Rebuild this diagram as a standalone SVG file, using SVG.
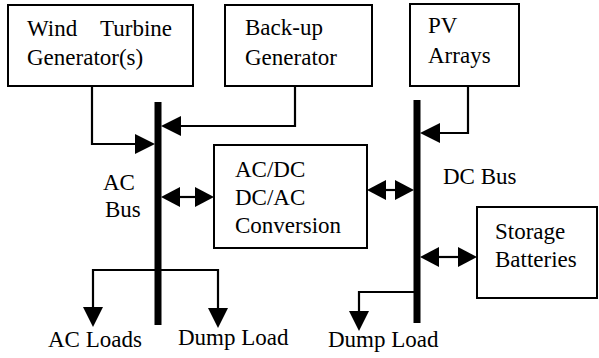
<svg xmlns="http://www.w3.org/2000/svg" width="599" height="358" viewBox="0 0 599 358">
<style>
.box{fill:#fff;stroke:#000;stroke-width:2}
.t{font-family:"Liberation Serif","Times New Roman",serif;font-size:23px;fill:#000}
.ln{fill:none;stroke:#000;stroke-width:2.2}
.bus{stroke:#000;stroke-width:7}
.ah{fill:#000}
</style>
<rect width="599" height="358" fill="#fff"/>
<g id="wind">
<rect class="box" x="8" y="5" width="185" height="81"/>
<text class="t"><tspan x="27" y="36">Wind</tspan><tspan x="100" y="36">Turbine</tspan></text>
<text class="t" x="27" y="65">Generator(s)</text>
</g>
<g id="backup">
<rect class="box" x="225" y="5" width="147" height="81"/>
<text class="t" x="245" y="35">Back-up</text>
<text class="t" x="245" y="65">Generator</text>
</g>
<g id="pv">
<rect class="box" x="410" y="4" width="109" height="82"/>
<text class="t" x="428" y="33">PV</text>
<text class="t" x="428" y="63">Arrays</text>
</g>
<g id="acbus">
<line class="bus" x1="158" y1="102" x2="158" y2="325"/>
<text class="t" x="103" y="190">AC</text>
<text class="t" x="105" y="217">Bus</text>
</g>
<g id="conversion">
<rect class="box" x="214" y="145" width="153" height="103"/>
<text class="t" x="235" y="177">AC/DC</text>
<text class="t" x="235" y="205">DC/AC</text>
<text class="t" x="235" y="233">Conversion</text>
</g>
<g id="dcbus">
<line class="bus" x1="417" y1="100" x2="417" y2="323"/>
<text class="t" x="443" y="184">DC Bus</text>
</g>
<g id="storage">
<rect class="box" x="477" y="207" width="120" height="91"/>
<text class="t" x="495" y="239">Storage</text>
<text class="t" x="495" y="267">Batteries</text>
</g>
<g id="acloads"><text class="t" x="48" y="347">AC Loads</text></g>
<g id="dumpac"><text class="t" x="178" y="345">Dump Load</text></g>
<g id="dumpdc"><text class="t" x="328" y="347">Dump Load</text></g>
<g id="connectors">
<path class="ln" d="M92,86 V144 H140"/>
<polygon class="ah" points="155,144 135,134 135,154"/>
<path class="ln" d="M295,86 V126 H175"/>
<polygon class="ah" points="161,126 181,116 181,136"/>
<path class="ln" d="M468,86 V133 H435"/>
<polygon class="ah" points="420,133 440,123 440,143"/>
<path class="ln" d="M175,197 H200"/>
<polygon class="ah" points="161,197 180,187 180,207"/>
<polygon class="ah" points="214,197 195,187 195,207"/>
<path class="ln" d="M380,190 H400"/>
<polygon class="ah" points="367,190 386,180 386,200"/>
<polygon class="ah" points="414,190 395,180 395,200"/>
<path class="ln" d="M434,257 H464"/>
<polygon class="ah" points="420,257 439,247 439,267"/>
<polygon class="ah" points="477,257 458,247 458,267"/>
<path class="ln" d="M158,270 H93 V312"/>
<polygon class="ah" points="93,327 83,307 103,307"/>
<path class="ln" d="M158,270 H218 V312"/>
<polygon class="ah" points="218,328 208,308 228,308"/>
<path class="ln" d="M417,292 H359 V316"/>
<polygon class="ah" points="359,331 349,311 369,311"/>
</g>
</svg>
